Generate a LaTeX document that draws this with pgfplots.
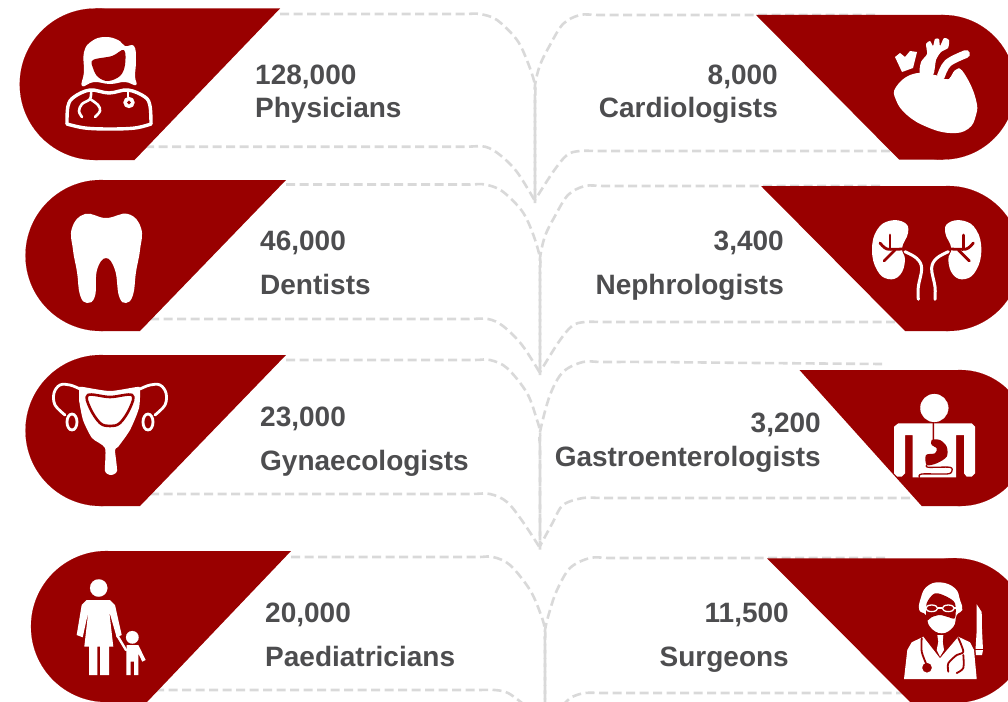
\documentclass[border=0pt]{standalone}
\usepackage{fontspec}
\setmainfont{Liberation Sans}
\usepackage{pgfplots}
\pgfplotsset{compat=1.18}
\definecolor{brick}{HTML}{990000}
\definecolor{dashgray}{HTML}{D9D9D9}
\definecolor{labelgray}{HTML}{4D4D4F}
\newcommand{\disc}[4]{\addplot[only marks,mark=*,mark size=#3,mark options={fill=#4,draw=#4,line width=0.1pt}] coordinates {(#1,#2)};}
\newcommand{\lab}[4]{\node[anchor=base #1,inner sep=0pt,text=labelgray,font=\fontsize{28}{30}\selectfont\bfseries] at (axis cs:#2,#3) {#4};}
\pgfplotsset{
  link/.style={dashgray,line width=2.6pt,dash pattern=on 9pt off 4.5pt,smooth,tension=0.55,no markers},
  red/.style={fill=brick,draw=none,no markers},
  wfill/.style={fill=white,draw=none,smooth cycle,tension=0.75,no markers},
  wline/.style={white,line width=#1,line cap=round,line join=round,smooth,tension=0.6,no markers},
  rline/.style={brick,line width=#1,line cap=round,line join=round,smooth,tension=0.5,no markers},
}
\begin{document}
\begin{tikzpicture}
\begin{axis}[name=ax,width=1008pt,height=701pt,scale only axis,hide axis,
  xmin=0,xmax=1008,ymin=0,ymax=701,y dir=reverse,clip=true,clip marker paths=true]

% dashed links, left column
\addplot[link] coordinates {(280,14) (380,14) (440,14) (465,14) (480,14) (497,20) (517,40) (528,63) (535,85) (535,100) (535,130) (535,203)};
\addplot[link] coordinates {(145,146.7) (300,146.7) (420,146.7) (465,146.7) (485,146.7) (500,155) (517,172) (535,201)};
\addplot[link] coordinates {(286,184.5) (380,184.5) (440,184.5) (470,184.5) (485,184.5) (502,191) (522,211) (533,234) (540,258) (540,273) (540,303) (540,375)};
\addplot[link] coordinates {(150,319) (300,319) (420,319) (468,319) (488,319) (503,326) (522,345) (540,373)};
\addplot[link] coordinates {(286,360) (380,360) (445,360) (475,360) (490,360) (507,368) (527,393) (537,420) (540,432) (540,447) (540,477) (540,550)};
\addplot[link] coordinates {(150,494) (300,494) (420,494) (470,494) (490,494) (507,502) (523,522) (540,548)};
\addplot[link] coordinates {(291,557) (380,557) (445,557) (478,557) (493,557) (510,565) (530,590) (541,615) (545,630) (545,645) (545,675) (545,705)};
\addplot[link] coordinates {(155,690) (300,690) (420,690) (475,690) (495,690) (508,693) (522,703)};
% dashed links, right column
\addplot[link] coordinates {(875,15) (760,15) (650,15) (600,15) (580,15) (563,24) (550,45) (540,65) (535,85) (535,100) (535,130) (535,200)};
\addplot[link] coordinates {(890,151) (760,151) (650,151) (600,151) (580,151) (567,155) (553,172) (535,200)};
\addplot[link] coordinates {(880,186) (760,186) (650,186) (605,186) (585,186) (568,195) (555,216) (545,236) (540,258) (540,273) (540,303) (540,372)};
\addplot[link] coordinates {(895,322) (760,322) (650,322) (605,322) (585,322) (572,326) (558,343) (540,372)};
\addplot[link] coordinates {(882,364) (760,363) (650,362) (603,362) (583,362) (563,372) (550,395) (540,432) (540,447) (540,477) (540,546)};
\addplot[link] coordinates {(910,498) (760,498) (650,498) (603,498) (583,498) (563,505) (553,522) (540,546)};
\addplot[link] coordinates {(885,558) (760,558) (650,558) (610,558) (590,558) (570,568) (557,590) (550,610) (545,630) (545,645) (545,675) (545,705)};
\addplot[link] coordinates {(905,693) (760,693) (650,693) (605,693) (585,693) (572,697) (565,703)};

% red blobs, left
\disc{95.5}{84.25}{75.75}{brick}
\addplot[red] coordinates {(95.5,8.5) (280,8.5) (134.5,160) (95.5,160)} --cycle;
\disc{101}{255.5}{75.5}{brick}
\addplot[red] coordinates {(101,180) (286,180) (140,331) (101,331)} --cycle;
\disc{101}{430.5}{75.5}{brick}
\addplot[red] coordinates {(101,355) (286,355) (140,506) (101,506)} --cycle;
\disc{106.5}{626.5}{75.5}{brick}
\addplot[red] coordinates {(106.5,551) (291,551) (147,702) (106.5,702)} --cycle;
% red blobs, right
\disc{943}{87.25}{72.25}{brick}
\addplot[red] coordinates {(943,15) (756,15) (899,159.5) (943,159.5)} --cycle;
\disc{948}{258.5}{72.5}{brick}
\addplot[red] coordinates {(948,186) (761,186) (905,331) (948,331)} --cycle;
\disc{960}{438}{68}{brick}
\addplot[red] coordinates {(960,370) (799.5,370) (921.7,506) (960,506)} --cycle;
\disc{955}{630.5}{72.3}{brick}
\addplot[red] coordinates {(955,558.3) (767,558.3) (911,703) (955,703)} --cycle;

% physician
\addplot[wfill] coordinates {(105,37) (118,40) (125,46) (134,46) (136,60) (135,76) (136,85) (125,82) (110,84) (94,82) (82,86) (84,72) (84,52) (92,41)};
\addplot[red,smooth cycle,tension=0.6] coordinates {(93,60) (112,56) (124,50) (125,65) (120,76) (108,81) (98,77) (93,68)};
\addplot[wline=3.4pt] coordinates {(67,124) (68,106) (74,97) (90,90) (109,93) (128,90) (145,97) (150,106) (151,124)};
\addplot[wline=3.4pt] coordinates {(67,124) (85,128) (110,129) (135,128) (151,124)};
\addplot[wline=2.6pt] coordinates {(91,91) (90,99) (82,104) (79,111) (82,117)};
\addplot[wline=2.6pt] coordinates {(90,99) (98,105) (100,111) (95,117)};
\addplot[wline=2.2pt] coordinates {(128,90) (128,97)};
\disc{129}{102.5}{5.6}{white}
\disc{129}{102.5}{1.8}{brick}

% tooth
\addplot[wfill] coordinates {(85,214) (106,218) (128,214) (141,228) (140,250) (136,272) (133,295) (126,303) (119,296) (115,270) (106,258) (97,270) (95,296) (87,303) (80,295) (77,272) (73,250) (72,228)};

% uterus
\addplot[wline=2.8pt] coordinates {(80,389) (70,385) (60,385) (54,393) (55,405) (65,415)};
\addplot[wline=2.8pt] coordinates {(140,389) (150,385) (160,385) (166,393) (165,405) (155,415)};
\addplot[white,line width=2.8pt,smooth cycle,tension=1,no markers] coordinates {(72,414) (77,422) (72,430) (67,422)};
\addplot[white,line width=2.8pt,smooth cycle,tension=1,no markers] coordinates {(148,414) (153,422) (148,430) (143,422)};
\addplot[fill=white,draw=none,smooth,tension=0.4,no markers] coordinates {(79,387) (83,387) (110,391) (137,387) (140,389) (139,408) (130,430) (118,447) (115,450) (117,471) (111,475) (105,471) (105,448) (92,438) (83,420) (79,400)} --cycle;
\addplot[fill=white,draw=brick,line width=2.6pt,smooth cycle,tension=0.6,no markers] coordinates {(88,395) (110,397) (132,395) (130,408) (120,423) (110,426) (100,423) (90,408)};

% mother and child
\disc{98.7}{588}{8.7}{white}
\addplot[fill=white,draw=none,no markers] coordinates {(86.7,600) (110,600) (115,605) (121.7,635) (116.7,637.3) (109.3,611.7) (113.3,646.7) (109,646.7) (109,675) (100,675) (100,646.7) (97.3,646.7) (97.3,675) (89,675) (89,646.7) (84.3,646.7) (88.3,611.7) (82.7,637.3) (76.7,635) (81.7,605)} --cycle;
\addplot[wline=2.4pt] coordinates {(117,635) (126,650)};
\disc{132.3}{637.3}{6.3}{white}
\addplot[fill=white,draw=none,no markers] coordinates {(126.7,645) (138.3,645) (145.7,660) (142.3,661.7) (138.3,653.3) (138.3,675) (134,675) (134,661.7) (130.7,661.7) (130.7,675) (126.3,675) (126.3,653)} --cycle;

% heart
\addplot[wfill] coordinates {(913,74) (896,87) (896,100) (907,115) (927,127) (950,133) (968,129) (976,115) (976,100) (967,78) (957,68) (948,79) (935,75)};
\addplot[fill=white,draw=none,smooth cycle,tension=0.4,no markers] coordinates {(920,74) (921,62) (927,54) (926,44) (930,41) (933,46) (935,39) (939,39) (940,46) (944,38) (949,40) (948,48) (941,52) (936,60) (933,75)};
\addplot[wline=8pt] coordinates {(941,76) (948,63) (966,54)};
\addplot[rline=2.6pt] coordinates {(948,78) (953,70) (958,67)};
\addplot[fill=white,draw=none,no markers] coordinates {(902,72) (895,57) (900,53) (905,57) (910,51) (917,52) (913,68)} --cycle;

% kidneys
\addplot[wfill] coordinates {(890,220.7) (905,223) (908,233) (902,248) (905,260) (900,275) (888,279) (877,270) (872,250) (877,230)};
\addplot[wfill] coordinates {(963.3,220.7) (948.3,223) (945.3,233) (951.3,248) (948.3,260) (953.3,275) (965.3,279) (976.3,270) (981.3,250) (976.3,230)};
\addplot[rline=2.8pt] coordinates {(890,235) (890,248)};
\addplot[rline=2.8pt] coordinates {(880,243) (887,249) (902,249)};
\addplot[rline=2.8pt] coordinates {(895,250) (884,261)};
\addplot[rline=2.8pt] coordinates {(963.3,235) (963.3,248)};
\addplot[rline=2.8pt] coordinates {(973.3,243) (966.3,249) (951.3,249)};
\addplot[rline=2.8pt] coordinates {(958.3,250) (969.3,261)};
\addplot[wline=3pt] coordinates {(905,251.7) (916.7,258.3) (921.7,268.3) (918.3,286.7) (918.3,299.3)};
\addplot[wline=3pt] coordinates {(948.3,251.7) (936.6,258.3) (931.6,268.3) (935,286.7) (935,299.3)};

% digestive tract figure
\disc{934.3}{408}{14}{white}
\addplot[fill=white,draw=none,no markers] coordinates {(898.3,423.3) (971.7,423.3) (975,426.7) (975,473.3) (971.7,476.7) (966.7,476.7) (964,473.3) (964,435) (956,435) (956,477.3) (912.7,477.3) (912.7,435) (905,435) (905,473.3) (901.7,476.7) (897.3,476.7) (894,473.3) (894,426.7)} --cycle;
\addplot[rline=1.4pt] coordinates {(933.3,423.3) (933.3,440) (931.7,443.3)};
\addplot[fill=brick,draw=none,smooth cycle,tension=0.5,no markers] coordinates {(931.7,440) (940,440) (946.7,446.7) (946.7,456.7) (936.7,463.3) (926.7,465) (926,455) (935,453.3) (936.7,448.3) (931.7,445)};
\addplot[rline=1.3pt] coordinates {(926.7,465) (928.3,467.3) (950,467.3) (951.7,471.7) (946.7,474) (921.7,474) (919.3,477.3)};

% surgeon
\addplot[wfill] coordinates {(940,582.3) (955,588.3) (960,600) (962.3,610) (956.7,615) (953.3,626.7) (941.7,633.3) (930,626.7) (926,615) (919.3,610) (920.7,598.3) (926.7,586.7)};
\addplot[red,smooth cycle,tension=0.5] coordinates {(926.7,603.3) (935,593.3) (946.7,596.7) (955,603.3) (955,618) (948,617) (940,615) (932,617) (926.7,620)};
\addplot[white,line width=1.3pt,smooth cycle,tension=1,no markers] coordinates {(925.7,608.3) (931.7,605) (937.7,608.3) (931.7,611.6)};
\addplot[white,line width=1.3pt,smooth cycle,tension=1,no markers] coordinates {(942.3,608.3) (948.3,605) (954.3,608.3) (948.3,611.6)};
\addplot[white,line width=1.3pt,no markers] coordinates {(919,608) (925.7,608)};
\addplot[white,line width=1.3pt,no markers] coordinates {(937.7,608) (942.3,608)};
\addplot[white,line width=1.3pt,no markers] coordinates {(954.3,608) (961,608)};
\addplot[fill=white,draw=none,no markers] coordinates {(904,679) (907.3,650) (911.7,642.3) (923.3,636.7) (940,658.3) (958.3,636.7) (970,642.3) (974,650) (976.7,679)} --cycle;
\addplot[fill=white,draw=none,no markers] coordinates {(937.3,635) (943.3,635) (942.7,641.7) (944,650) (940,656.7) (936.7,650) (938.3,641.7)} --cycle;
\addplot[rline=1.8pt] coordinates {(921.7,638) (921.7,651.7) (926.7,665)};
\disc{927}{667.7}{4.7}{brick}
\addplot[rline=1.8pt] coordinates {(958.3,638) (963.3,651.7) (956.7,655) (948.3,663.3) (948.3,671.7)};
\addplot[rline=1.8pt] coordinates {(963.3,655) (963.3,668) (956.7,673)};
\addplot[fill=white,draw=none,no markers] coordinates {(976.7,604.3) (981.7,612) (982,630) (983,650) (982,655) (976,655) (975.5,650) (976.7,630)} --cycle;
\addplot[brick,line width=0.9pt,no markers] coordinates {(975,649.5) (984,649.5)};

% labels
\lab{west}{255}{84}{128,000}
\lab{west}{255}{117}{Physicians}
\lab{west}{260}{250}{46,000}
\lab{west}{260}{294}{Dentists}
\lab{west}{260}{426}{23,000}
\lab{west}{260}{470}{Gynaecologists}
\lab{west}{265}{622}{20,000}
\lab{west}{265}{666}{Paediatricians}
\lab{east}{778}{84}{8,000}
\lab{east}{778}{117}{Cardiologists}
\lab{east}{784}{250}{3,400}
\lab{east}{784}{294}{Nephrologists}
\lab{east}{821}{432}{3,200}
\lab{east}{821}{466}{Gastroenterologists}
\lab{east}{789}{622}{11,500}
\lab{east}{789}{666}{Surgeons}
\end{axis}
\pgfresetboundingbox
\path[use as bounding box] (ax.south west) rectangle (ax.north east);
\end{tikzpicture}
\end{document}
